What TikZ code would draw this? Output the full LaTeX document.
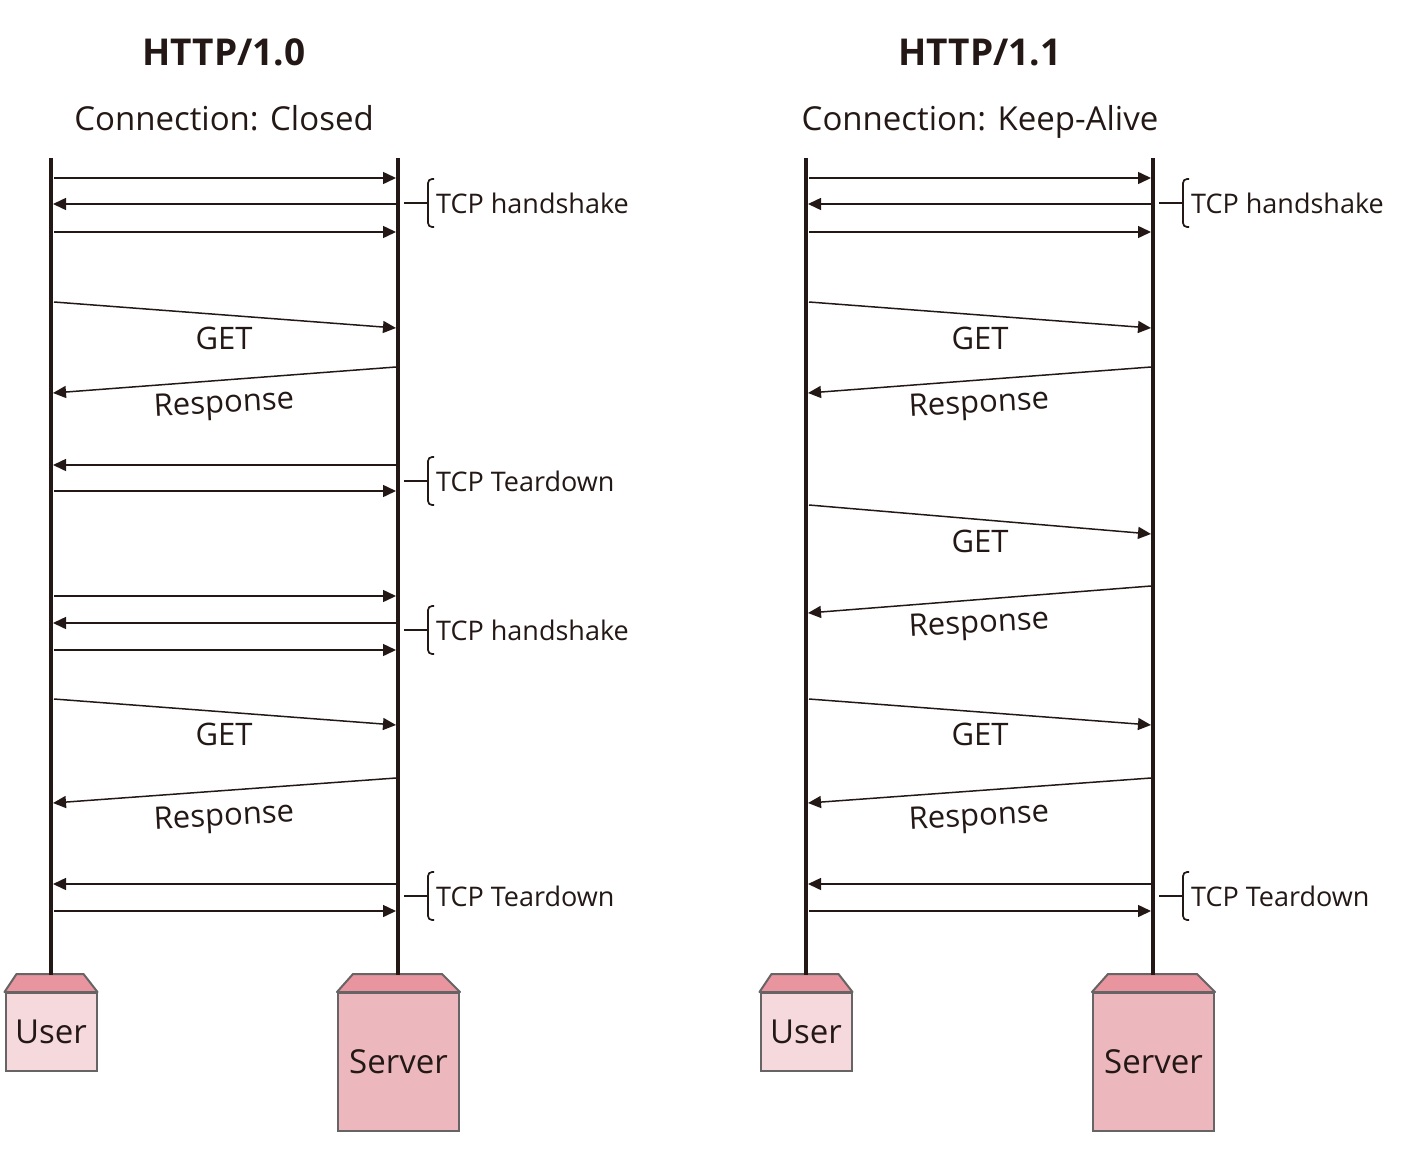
\documentclass[tikz,border=0pt]{standalone}
\usepackage{fontspec}
\setmainfont{Open Sans}
\usetikzlibrary{arrows.meta}
\definecolor{inkcol}{HTML}{231815}
\definecolor{edgecol}{HTML}{666464}
\definecolor{capcol}{HTML}{E8959F}
\definecolor{usercol}{HTML}{F5D9DC}
\definecolor{servercol}{HTML}{ECB8BD}
\tikzset{
    lifeline/.style={draw=inkcol, line width=3.6pt},
    msg/.style={draw=inkcol, line width=1.5pt, -{Triangle[length=13pt,width=12pt]}},
    bracket/.style={draw=inkcol, line width=1.7pt, rounded corners=4pt},
    hand/.style={text=inkcol, inner sep=0pt, font=\fontsize{27}{31}\selectfont},
    msglabel/.style={text=inkcol, inner sep=0pt, font=\fontsize{31}{36}\selectfont},
    headline/.style={text=inkcol, inner sep=0pt, anchor=base, font=\fontsize{37}{42}\selectfont\bfseries},
    subline/.style={text=inkcol, inner sep=0pt, anchor=base, font=\fontsize{33}{38}\selectfont},
    hostbox/.style={draw=edgecol, line width=2pt, inner sep=0pt, text=inkcol, font=\fontsize{33}{38}\selectfont},
    boxcap/.style={draw=edgecol, line width=2pt, fill=capcol, line join=round},
}
\begin{document}
\begin{tikzpicture}[x=1pt, y=-1pt]
    \useasboundingbox (0,0) rectangle (1420,1156);

    % Titles
    \node[headline] (titleA) at (224,65) {HTTP/1.0};
    \node[subline] (subA) at (224,130) {Connection: Closed};
    \node[headline] (titleB) at (980,65) {HTTP/1.1};
    \node[subline] (subB) at (980,130) {Connection: Keep-Alive};

    \foreach \dx/\p in {0/A, 755/B} {
        % Boxes
        \node[hostbox, fill=usercol, minimum width=91pt, minimum height=78pt] (user\p) at (51+\dx,1032) {User};
        \node[hostbox, fill=servercol, minimum width=121pt, minimum height=138pt] (server\p) at (398.5+\dx,1062) {Server};
        \draw[boxcap] (user\p.north west) -- ++(12,-18) -- ++(67,0) -- (user\p.north east) -- cycle;
        \draw[boxcap] (server\p.north west) -- ++(16,-18) -- ++(89,0) -- (server\p.north east) -- cycle;

        % Lifelines
        \coordinate (userTop\p) at (51+\dx,158);
        \coordinate (serverTop\p) at (398+\dx,158);
        \coordinate (userEnd\p) at (51+\dx,975);
        \coordinate (serverEnd\p) at (398+\dx,975);
        \draw[lifeline] (userTop\p) -- (userEnd\p);
        \draw[lifeline] (serverTop\p) -- (serverEnd\p);
    }

    % Arrows: number, from x, from y, to x, to y
    \foreach \n/\ax/\ay/\bx/\by in {
        1/54/178/396/178, 2/396/204/53/204, 3/54/232/396/232,
        4/54/302/396/328, 5/396/367/53/393,
        6/396/465/53/465, 7/54/491/396/491,
        8/54/596/396/596, 9/396/623/53/623, 10/54/650/396/650,
        11/54/699/396/725, 12/396/778/53/803,
        13/396/884/53/884, 14/54/911/396/911} {
        \coordinate (a\n) at (\ax,\ay);
        \coordinate (b\n) at (\bx,\by);
        \draw[msg] (a\n) -- (b\n);
    }
    \foreach \n/\ax/\ay/\bx/\by in {
        1/809/178/1151/178, 2/1151/204/808/204, 3/809/232/1151/232,
        4/809/302/1151/328, 5/1151/367/808/393,
        6/809/505/1151/534, 7/1151/586/808/613,
        8/809/699/1151/725, 9/1151/778/808/803,
        10/1151/884/808/884, 11/809/911/1151/911} {
        \coordinate (c\n) at (\ax,\ay);
        \coordinate (d\n) at (\bx,\by);
        \draw[msg] (c\n) -- (d\n);
    }

    % GET and Response labels
    \foreach \n/\x/\y in {1/224/338, 2/224/734, 3/980/338, 4/980/541, 5/980/734}
        \node[msglabel] (get\n) at (\x,\y) {GET};
    \foreach \n/\x/\y in {1/224/405, 2/224/818, 3/979/405, 4/979/625, 5/979/818}
        \node[msglabel, rotate=3] (resp\n) at (\x,\y) {Response};

    % Brackets
    \foreach \n/\x/\y/\txt in {
        1/0/203/TCP handshake, 2/0/481/TCP Teardown, 3/0/630/TCP handshake, 4/0/896/TCP Teardown,
        5/755/203/TCP handshake, 6/755/896/TCP Teardown} {
        \node[hand, anchor=west] (tcp\n) at (436+\x,\y) {\txt};
        \coordinate (tick\n) at (404+\x,\y);
        \coordinate (mid\n) at (428+\x,\y);
        \draw[bracket] (434+\x,\y-24) -- (428+\x,\y-24) -- (428+\x,\y+24) -- (434+\x,\y+24);
        \draw[draw=inkcol, line width=1.7pt] (tick\n) -- (mid\n);
    }
\end{tikzpicture}
\end{document}
